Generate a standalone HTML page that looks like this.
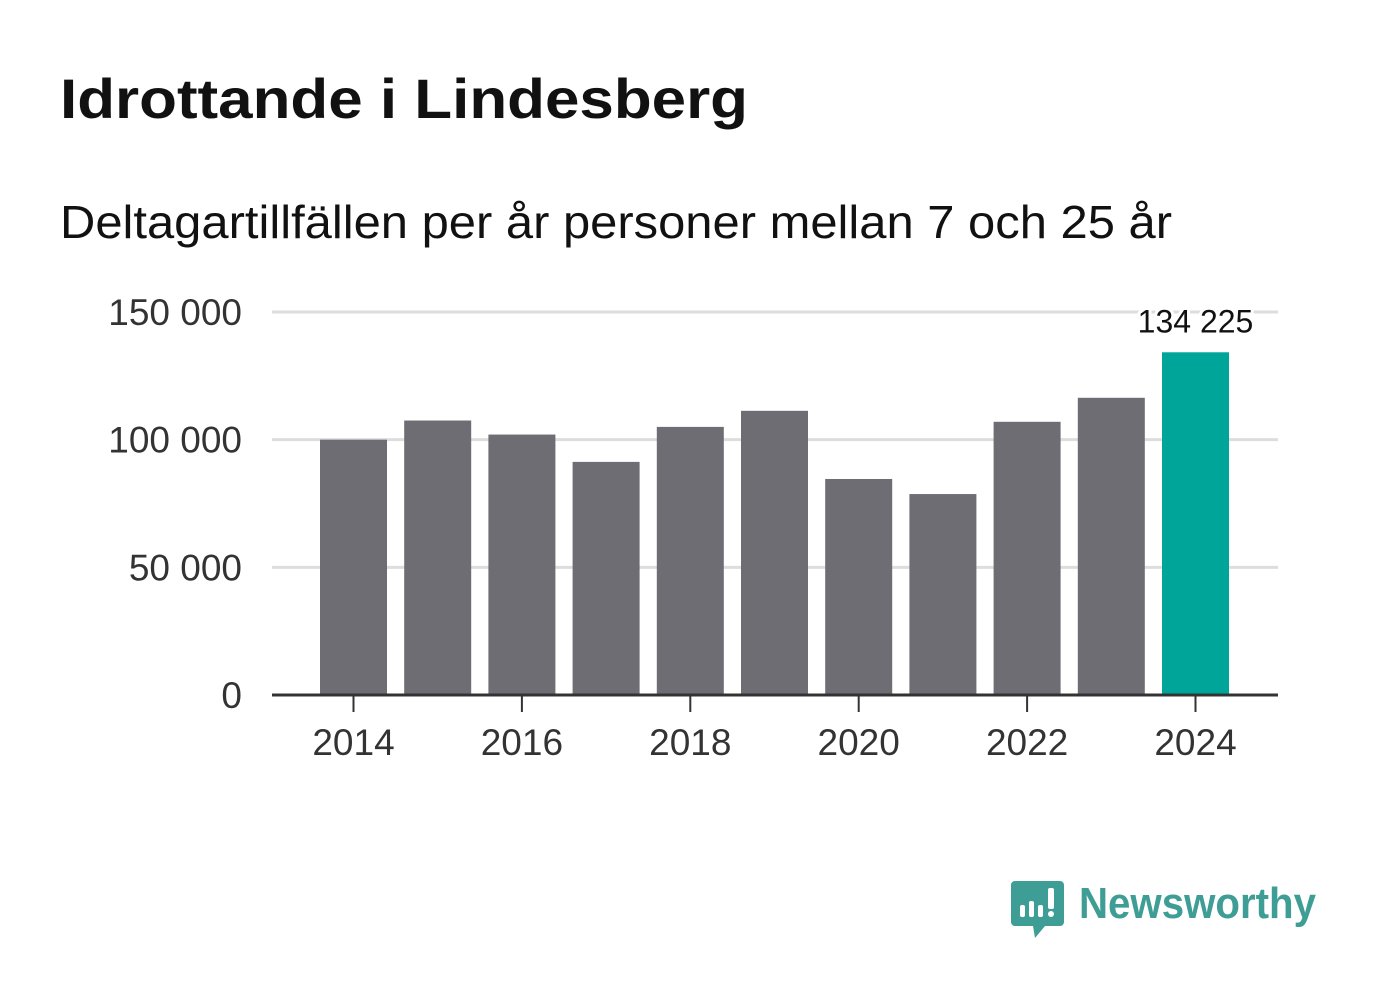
<!DOCTYPE html>
<html><head><meta charset="utf-8"><style>
body{margin:0;width:1382px;height:999px;background:#fff;overflow:hidden;font-family:"Liberation Sans",sans-serif}
</style></head><body>
<svg width="1382" height="999" xmlns="http://www.w3.org/2000/svg">
<text x="60" y="118" font-size="56" font-weight="bold" fill="#111" textLength="688" lengthAdjust="spacingAndGlyphs">Idrottande i Lindesberg</text>
<text x="60" y="238" font-size="46" fill="#111" textLength="1112" lengthAdjust="spacingAndGlyphs">Deltagartillfällen per år personer mellan 7 och 25 år</text>
<g id="grid"></g><g id="bars"></g><g id="axes"></g>
<g>
<path d="M1015 881 h45 a4 4 0 0 1 4 4 v37 a4 4 0 0 1 -4 4 h-15 l-10 12 l-2 -12 h-18 a4 4 0 0 1 -4 -4 v-37 a4 4 0 0 1 4 -4z" fill="#3e9e95"/>
<rect x="1020" y="905" width="5" height="12" rx="2" fill="#fff"/>
<rect x="1029" y="901" width="5" height="16" rx="2" fill="#fff"/>
<rect x="1038" y="905" width="5" height="12" rx="2" fill="#fff"/>
<rect x="1048" y="888" width="6" height="21" rx="2" fill="#fff"/>
<circle cx="1051" cy="914" r="3" fill="#fff"/>
<text x="1079" y="918" font-size="44" font-weight="bold" fill="#3e9e95" textLength="237" lengthAdjust="spacingAndGlyphs">Newsworthy</text>
</g>
</svg>
<script>
const years=[2014,2015,2016,2017,2018,2019,2020,2021,2022,2023,2024];
const values=[100000,107500,102000,91300,105000,111300,84600,78700,107000,116400,134225];
const yTicks=[0,50000,100000,150000];
const yTickLabels=["0","50 000","100 000","150 000"];
const xTickYears=[2014,2016,2018,2020,2022,2024];
const NS="http://www.w3.org/2000/svg";
const y=v=>695-v*(383/150000);
const x=yr=>353.5+(yr-2014)*84.2;
function mk(t,a,p){const e=document.createElementNS(NS,t);for(const k in a)e.setAttribute(k,a[k]);document.getElementById(p).appendChild(e);return e;}
yTicks.forEach((t,i)=>{
 if(t>0){const g=mk('line',{x1:272,x2:1278,y1:y(t),y2:y(t),stroke:'#ddd','stroke-width':3},'grid');
 
 }
 const l=mk('text',{x:242,y:y(t)+13,'font-size':37,fill:'#333','text-anchor':'end'},'axes');l.textContent=yTickLabels[i];
 
 
});
years.forEach((yr,i)=>{
 const last=i===years.length-1;
 const b=mk('rect',{x:x(yr)-33.5,y:y(values[i]),width:67,height:695-y(values[i]),fill:last?'#00a59a':'#6e6d73'},'bars');
 
 
 if(last){const t=mk('text',{x:x(yr),y:y(values[i])-20,'font-size':32,fill:'#111','text-anchor':'middle',stroke:'#fff','stroke-width':6,'paint-order':'stroke'},'axes');
 t.textContent=values[i].toLocaleString('sv-SE').replace(/\s/g,' ');
 
 }
});
const ax=mk('line',{x1:272,x2:1278,y1:695,y2:695,stroke:'#333','stroke-width':3},'axes');


xTickYears.forEach(yr=>{
 const tk=mk('line',{x1:x(yr),x2:x(yr),y1:695,y2:712,stroke:'#333','stroke-width':2},'axes');
 
 
 const l=mk('text',{x:x(yr),y:755,'font-size':37,fill:'#333','text-anchor':'middle'},'axes');l.textContent=yr;
 
 
});
</script>
</body></html>
